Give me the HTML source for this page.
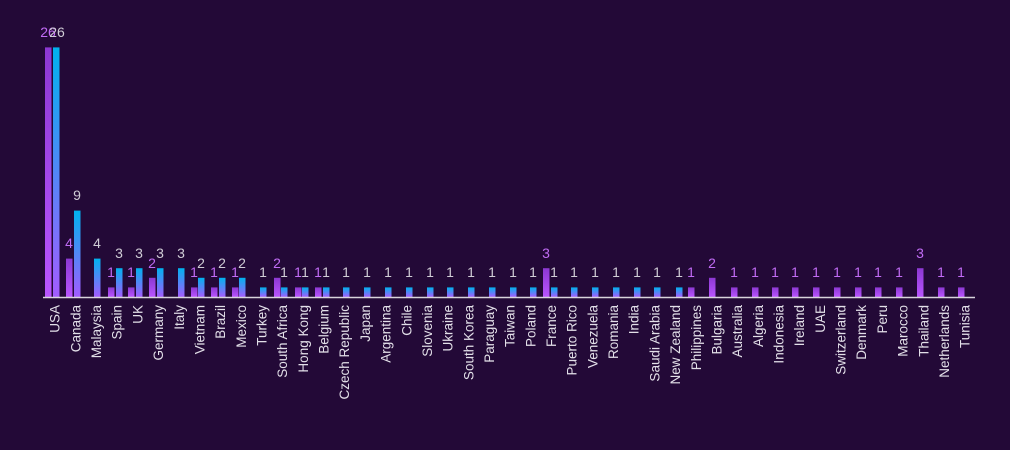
<!DOCTYPE html>
<html><head><meta charset="utf-8"><style>
html,body{margin:0;padding:0;background:#230937;}
svg{display:block}
text{font-family:"Liberation Sans","DejaVu Sans",sans-serif}
.v{font-size:14px;text-anchor:middle}
.p{fill:#c16cf5}
.b{fill:#d0cdd6}
.x{font-size:13.5px;fill:#e2dfe8;text-anchor:end}
</style></head><body>
<svg width="1010" height="450" viewBox="0 0 1010 450">
<defs>
<linearGradient id="gp" x1="0" y1="0" x2="0" y2="1"><stop offset="0" stop-color="#8c38d2"/><stop offset="1" stop-color="#b955ff"/></linearGradient>
<linearGradient id="gb" x1="0" y1="0" x2="0" y2="1"><stop offset="0" stop-color="#00b2ee"/><stop offset="1" stop-color="#a35cff"/></linearGradient>
</defs>
<rect width="1010" height="450" fill="#230937"/>
<g fill="url(#gp)">
<rect x="45" y="47.4" width="6.5" height="249.6"/>
<rect x="66" y="258.6" width="6.5" height="38.4"/>
<rect x="108" y="287.4" width="6.5" height="9.6"/>
<rect x="128" y="287.4" width="6.5" height="9.6"/>
<rect x="149" y="277.8" width="6.5" height="19.2"/>
<rect x="191" y="287.4" width="6.5" height="9.6"/>
<rect x="211" y="287.4" width="6.5" height="9.6"/>
<rect x="232" y="287.4" width="6.5" height="9.6"/>
<rect x="274" y="277.8" width="6.5" height="19.2"/>
<rect x="295" y="287.4" width="6.5" height="9.6"/>
<rect x="315" y="287.4" width="6.5" height="9.6"/>
<rect x="543" y="268.2" width="6.5" height="28.8"/>
<rect x="688" y="287.4" width="6.5" height="9.6"/>
<rect x="709" y="277.8" width="6.5" height="19.2"/>
<rect x="731" y="287.4" width="6.5" height="9.6"/>
<rect x="752" y="287.4" width="6.5" height="9.6"/>
<rect x="772" y="287.4" width="6.5" height="9.6"/>
<rect x="792" y="287.4" width="6.5" height="9.6"/>
<rect x="813" y="287.4" width="6.5" height="9.6"/>
<rect x="834" y="287.4" width="6.5" height="9.6"/>
<rect x="855" y="287.4" width="6.5" height="9.6"/>
<rect x="875" y="287.4" width="6.5" height="9.6"/>
<rect x="896" y="287.4" width="6.5" height="9.6"/>
<rect x="917" y="268.2" width="6.5" height="28.8"/>
<rect x="938" y="287.4" width="6.5" height="9.6"/>
<rect x="958" y="287.4" width="6.5" height="9.6"/>
</g>
<g fill="url(#gb)">
<rect x="53" y="47.4" width="6.5" height="249.6"/>
<rect x="74" y="210.6" width="6.5" height="86.4"/>
<rect x="94" y="258.6" width="6.5" height="38.4"/>
<rect x="116" y="268.2" width="6.5" height="28.8"/>
<rect x="136" y="268.2" width="6.5" height="28.8"/>
<rect x="157" y="268.2" width="6.5" height="28.8"/>
<rect x="178" y="268.2" width="6.5" height="28.8"/>
<rect x="198" y="277.8" width="6.5" height="19.2"/>
<rect x="219" y="277.8" width="6.5" height="19.2"/>
<rect x="239" y="277.8" width="6.5" height="19.2"/>
<rect x="260" y="287.4" width="6.5" height="9.6"/>
<rect x="281" y="287.4" width="6.5" height="9.6"/>
<rect x="302" y="287.4" width="6.5" height="9.6"/>
<rect x="323" y="287.4" width="6.5" height="9.6"/>
<rect x="343" y="287.4" width="6.5" height="9.6"/>
<rect x="364" y="287.4" width="6.5" height="9.6"/>
<rect x="385" y="287.4" width="6.5" height="9.6"/>
<rect x="406" y="287.4" width="6.5" height="9.6"/>
<rect x="427" y="287.4" width="6.5" height="9.6"/>
<rect x="447" y="287.4" width="6.5" height="9.6"/>
<rect x="468" y="287.4" width="6.5" height="9.6"/>
<rect x="489" y="287.4" width="6.5" height="9.6"/>
<rect x="510" y="287.4" width="6.5" height="9.6"/>
<rect x="530" y="287.4" width="6.5" height="9.6"/>
<rect x="551" y="287.4" width="6.5" height="9.6"/>
<rect x="571" y="287.4" width="6.5" height="9.6"/>
<rect x="592" y="287.4" width="6.5" height="9.6"/>
<rect x="613" y="287.4" width="6.5" height="9.6"/>
<rect x="634" y="287.4" width="6.5" height="9.6"/>
<rect x="654" y="287.4" width="6.5" height="9.6"/>
<rect x="676" y="287.4" width="6.5" height="9.6"/>
</g>
<line x1="43" y1="297.5" x2="975" y2="297.5" stroke="#d8d4dc" stroke-width="1.5"/>
<!-- purple labels -->
<g class="v p">
<text x="48" y="37">26</text><text x="69" y="248">4</text><text x="111" y="277">1</text><text x="131" y="277">1</text><text x="152" y="268">2</text><text x="194" y="277">1</text><text x="214" y="277">1</text><text x="235" y="277">1</text><text x="277" y="268">2</text><text x="298" y="277">1</text><text x="318" y="277">1</text><text x="546" y="258">3</text><text x="691" y="277">1</text><text x="712" y="268">2</text><text x="734" y="277">1</text><text x="755" y="277">1</text><text x="775" y="277">1</text><text x="795" y="277">1</text><text x="816" y="277">1</text><text x="837" y="277">1</text><text x="858" y="277">1</text><text x="878" y="277">1</text><text x="899" y="277">1</text><text x="920" y="258">3</text><text x="941" y="277">1</text><text x="961" y="277">1</text>
</g>
<g class="v b">
<text x="57" y="37">26</text><text x="77" y="200">9</text><text x="97" y="248">4</text><text x="119" y="258">3</text><text x="139" y="258">3</text><text x="160" y="258">3</text><text x="181" y="258">3</text><text x="201" y="268">2</text><text x="222" y="268">2</text><text x="242" y="268">2</text><text x="263" y="277">1</text><text x="284" y="277">1</text><text x="305" y="277">1</text><text x="326" y="277">1</text><text x="346" y="277">1</text><text x="367" y="277">1</text><text x="388" y="277">1</text><text x="409" y="277">1</text><text x="430" y="277">1</text><text x="450" y="277">1</text><text x="471" y="277">1</text><text x="492" y="277">1</text><text x="513" y="277">1</text><text x="533" y="277">1</text><text x="554" y="277">1</text><text x="574" y="277">1</text><text x="595" y="277">1</text><text x="616" y="277">1</text><text x="637" y="277">1</text><text x="657" y="277">1</text><text x="679" y="277">1</text>
</g>
<g class="x">
<text transform="translate(55,305) rotate(-90)" dy="0.35em">USA</text>
<text transform="translate(75.7,305) rotate(-90)" dy="0.35em">Canada</text>
<text transform="translate(96.4,305) rotate(-90)" dy="0.35em">Malaysia</text>
<text transform="translate(117,305) rotate(-90)" dy="0.35em">Spain</text>
<text transform="translate(137.7,305) rotate(-90)" dy="0.35em">UK</text>
<text transform="translate(158.4,305) rotate(-90)" dy="0.35em">Germany</text>
<text transform="translate(179.1,305) rotate(-90)" dy="0.35em">Italy</text>
<text transform="translate(199.8,305) rotate(-90)" dy="0.35em">Vietnam</text>
<text transform="translate(220.4,305) rotate(-90)" dy="0.35em">Brazil</text>
<text transform="translate(241.1,305) rotate(-90)" dy="0.35em">Mexico</text>
<text transform="translate(261.8,305) rotate(-90)" dy="0.35em">Turkey</text>
<text transform="translate(282.5,305) rotate(-90)" dy="0.35em">South Africa</text>
<text transform="translate(303.2,305) rotate(-90)" dy="0.35em">Hong Kong</text>
<text transform="translate(323.8,305) rotate(-90)" dy="0.35em">Belgium</text>
<text transform="translate(344.5,305) rotate(-90)" dy="0.35em">Czech Republic</text>
<text transform="translate(365.2,305) rotate(-90)" dy="0.35em">Japan</text>
<text transform="translate(385.9,305) rotate(-90)" dy="0.35em">Argentina</text>
<text transform="translate(406.6,305) rotate(-90)" dy="0.35em">Chile</text>
<text transform="translate(427.2,305) rotate(-90)" dy="0.35em">Slovenia</text>
<text transform="translate(447.9,305) rotate(-90)" dy="0.35em">Ukraine</text>
<text transform="translate(468.6,305) rotate(-90)" dy="0.35em">South Korea</text>
<text transform="translate(489.3,305) rotate(-90)" dy="0.35em">Paraguay</text>
<text transform="translate(510,305) rotate(-90)" dy="0.35em">Taiwan</text>
<text transform="translate(530.6,305) rotate(-90)" dy="0.35em">Poland</text>
<text transform="translate(551.3,305) rotate(-90)" dy="0.35em">France</text>
<text transform="translate(572,305) rotate(-90)" dy="0.35em">Puerto Rico</text>
<text transform="translate(592.7,305) rotate(-90)" dy="0.35em">Venezuela</text>
<text transform="translate(613.4,305) rotate(-90)" dy="0.35em">Romania</text>
<text transform="translate(634,305) rotate(-90)" dy="0.35em">India</text>
<text transform="translate(654.7,305) rotate(-90)" dy="0.35em">Saudi Arabia</text>
<text transform="translate(675.4,305) rotate(-90)" dy="0.35em">New Zealand</text>
<text transform="translate(696.1,305) rotate(-90)" dy="0.35em">Philippines</text>
<text transform="translate(716.8,305) rotate(-90)" dy="0.35em">Bulgaria</text>
<text transform="translate(737.4,305) rotate(-90)" dy="0.35em">Australia</text>
<text transform="translate(758.1,305) rotate(-90)" dy="0.35em">Algeria</text>
<text transform="translate(778.8,305) rotate(-90)" dy="0.35em">Indonesia</text>
<text transform="translate(799.5,305) rotate(-90)" dy="0.35em">Ireland</text>
<text transform="translate(820.2,305) rotate(-90)" dy="0.35em">UAE</text>
<text transform="translate(840.8,305) rotate(-90)" dy="0.35em">Switzerland</text>
<text transform="translate(861.5,305) rotate(-90)" dy="0.35em">Denmark</text>
<text transform="translate(882.2,305) rotate(-90)" dy="0.35em">Peru</text>
<text transform="translate(902.9,305) rotate(-90)" dy="0.35em">Marocco</text>
<text transform="translate(923.6,305) rotate(-90)" dy="0.35em">Thailand</text>
<text transform="translate(944.2,305) rotate(-90)" dy="0.35em">Netherlands</text>
<text transform="translate(964.9,305) rotate(-90)" dy="0.35em">Tunisia</text>
</g>
</svg>
</body></html>
